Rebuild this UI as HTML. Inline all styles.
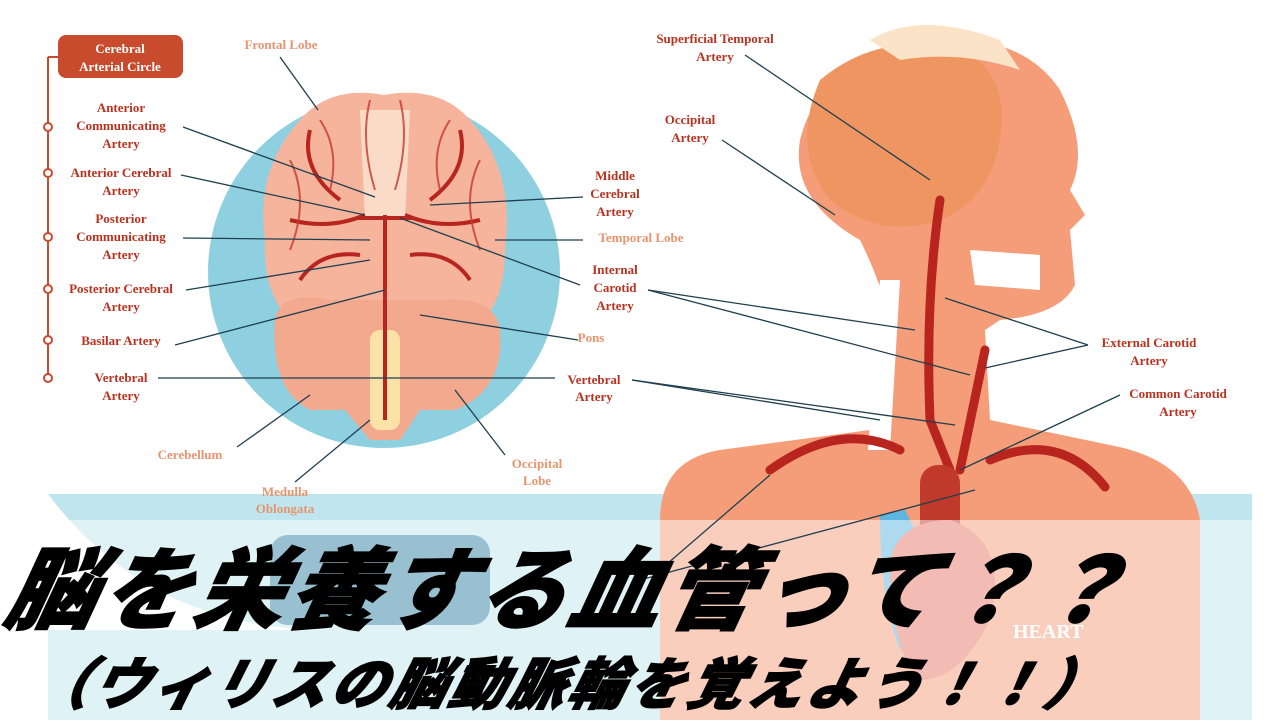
<!DOCTYPE html>
<html><head><meta charset="utf-8">
<style>
html,body{margin:0;padding:0;width:1280px;height:720px;overflow:hidden;background:#fff}
svg{position:absolute;left:0;top:0}
.t{position:absolute;font-family:"Liberation Sans","Noto Sans CJK JP",sans-serif;font-weight:900;color:#000;font-style:italic;white-space:nowrap;transform:skewX(-12deg);-webkit-text-stroke:1.5px #000}
</style></head><body>
<svg width="1280" height="720" viewBox="0 0 1280 720" font-family="Liberation Serif,serif" font-weight="bold" font-size="13">
<rect x="48" y="494" width="1204" height="226" fill="#bfe6ee"/>
<path d="M48 494 Q150 630 330 630 L48 630 Z" fill="#fff"/>
<circle cx="384" cy="272" r="176" fill="#8fd0e0"/>
<path d="M300 120 Q330 85 384 95 Q440 85 470 120 Q515 170 505 250 Q505 310 470 330 L300 330 Q262 300 265 240 Q255 170 300 120Z" fill="#f6b49c"/>
<path d="M275 320 Q280 290 330 300 L440 300 Q495 295 500 330 Q505 390 455 410 L420 410 L400 440 L370 440 L345 410 L310 410 Q270 390 275 320Z" fill="#f3a98e"/>
<path d="M360 110 L410 110 L405 220 L365 220Z" fill="#fadbc8"/>
<rect x="370" y="330" width="30" height="100" rx="10" fill="#fbe3a8"/>
<g stroke="#b8251f" stroke-width="4" fill="none">
<path d="M385 215 L385 420"/><path d="M358 218 L412 218"/><path d="M340 200 Q300 170 310 130"/><path d="M430 200 Q470 170 460 130"/>
<path d="M360 255 Q320 250 300 280"/><path d="M410 255 Q450 250 470 280"/><path d="M365 215 Q330 230 290 220"/><path d="M405 215 Q440 230 480 220"/>
</g>
<g stroke="#c7392e" stroke-width="2" fill="none" opacity=".8">
<path d="M320 120 Q340 150 330 190"/><path d="M450 120 Q430 150 440 190"/><path d="M290 160 Q310 200 290 250"/><path d="M480 160 Q460 200 480 250"/>
<path d="M370 100 Q360 140 375 190"/><path d="M400 100 Q410 140 395 190"/>
</g>
<path d="M660 520 Q660 460 720 450 L870 430 L890 320 Q880 280 860 240 Q790 200 800 140 Q820 60 920 40 Q1020 30 1060 90 Q1090 150 1070 190 L1085 215 L1070 230 L1075 285 Q1060 315 1000 320 L985 330 L990 420 L1110 445 Q1190 460 1200 520 L1200 720 L660 720Z" fill="#f59d78"/>
<path d="M820 80 Q880 30 960 50 Q1010 70 1000 140 Q990 200 940 220 Q880 240 830 200 Q790 150 820 80Z" fill="#ee9562"/>
<path d="M870 40 Q920 10 1000 40 L1020 70 Q960 50 900 60Z" fill="#fbe3c8"/>
<path d="M970 250 L1040 255 L1040 290 L975 285Z" fill="#fff"/>
<path d="M880 280 L900 280 L890 450 L868 450Z" fill="#fff"/>
<g stroke="#b8251f" stroke-width="9" fill="none" stroke-linecap="round">
<path d="M940 200 Q925 300 930 420 L950 470"/><path d="M960 470 L985 350"/><path d="M770 470 Q840 420 900 450"/><path d="M1105 487 Q1060 430 990 460"/>
</g>
<rect x="920" y="465" width="40" height="140" rx="18" fill="#c0392b"/>
<path d="M880 515 L905 510 L930 560 L930 620 L900 650 Q880 600 880 515Z" fill="#5db5e0"/>
<path d="M890 560 Q900 520 950 520 Q1010 540 990 620 Q960 680 920 680 Q890 650 890 560Z" fill="#e5786a"/>
<rect x="48" y="520" width="1207" height="200" fill="#fff" opacity=".5"/>
<rect x="270" y="535" width="220" height="90" rx="18" fill="#6a9fb8" opacity=".6"/>
<text x="1013" y="638" fill="#fff" font-size="20">HEART</text>
<rect x="58" y="35" width="125" height="43" rx="8" fill="#c94b2e"/>
<text x="120" y="53" fill="#fff" text-anchor="middle">Cerebral</text>
<text x="120" y="71" fill="#fff" text-anchor="middle">Arterial Circle</text>
<path d="M48 57 L48 378" stroke="#c94b2e" stroke-width="2"/><path d="M48 57 L58 57" stroke="#c94b2e" stroke-width="2"/>
<g fill="#fff" stroke="#c94b2e" stroke-width="2"><circle cx="48" cy="127" r="4"/><circle cx="48" cy="173" r="4"/><circle cx="48" cy="237" r="4"/><circle cx="48" cy="289" r="4"/><circle cx="48" cy="340" r="4"/><circle cx="48" cy="378" r="4"/></g>
<g fill="#b8321f" text-anchor="middle">
<text x="121" y="112">Anterior</text><text x="121" y="130">Communicating</text><text x="121" y="148">Artery</text>
<text x="121" y="177">Anterior Cerebral</text><text x="121" y="195">Artery</text>
<text x="121" y="223">Posterior</text><text x="121" y="241">Communicating</text><text x="121" y="259">Artery</text>
<text x="121" y="293">Posterior Cerebral</text><text x="121" y="311">Artery</text>
<text x="121" y="345">Basilar Artery</text>
<text x="121" y="382">Vertebral</text><text x="121" y="400">Artery</text>
<text x="615" y="180">Middle</text><text x="615" y="198">Cerebral</text><text x="615" y="216">Artery</text>
<text x="615" y="274">Internal</text><text x="615" y="292">Carotid</text><text x="615" y="310">Artery</text>
<text x="594" y="384">Vertebral</text><text x="594" y="401">Artery</text>
<text x="715" y="43">Superficial Temporal</text><text x="715" y="61">Artery</text>
<text x="690" y="124">Occipital</text><text x="690" y="142">Artery</text>
<text x="1149" y="347">External Carotid</text><text x="1149" y="365">Artery</text>
<text x="1178" y="398">Common Carotid</text><text x="1178" y="416">Artery</text>
</g>
<g fill="#e8946f" text-anchor="middle">
<text x="281" y="49">Frontal Lobe</text><text x="641" y="242">Temporal Lobe</text><text x="591" y="342">Pons</text>
<text x="190" y="459">Cerebellum</text><text x="285" y="496">Medulla</text><text x="285" y="513">Oblongata</text>
<text x="537" y="468">Occipital</text><text x="537" y="485">Lobe</text>
</g>
<g stroke="#1f3f50" stroke-width="1.3" fill="none">
<path d="M280 57 L318 110"/><path d="M183 127 L375 197"/><path d="M181 175 L365 215"/><path d="M183 238 L370 240"/>
<path d="M186 290 L370 260"/><path d="M175 345 L385 290"/><path d="M158 378 L555 378"/><path d="M583 197 L430 205"/>
<path d="M583 240 L495 240"/><path d="M580 285 L400 218"/><path d="M578 340 L420 315"/><path d="M237 447 L310 395"/>
<path d="M295 482 L370 420"/><path d="M505 455 L455 390"/>
<path d="M745 55 L930 180"/><path d="M722 140 L835 215"/><path d="M648 290 L915 330"/><path d="M648 290 L970 375"/>
<path d="M632 380 L880 420"/><path d="M632 380 L955 425"/><path d="M1088 345 L945 298"/><path d="M1088 345 L985 368"/>
<path d="M1120 395 L960 470"/><path d="M770 475 L660 570"/><path d="M975 490 L640 580"/>
</g>
</svg>
<div class="t" style="left:10px;top:518px;font-size:90px;letter-spacing:4px">脳を栄養する血管って？？</div>
<div class="t" style="left:36px;top:640px;font-size:56px;letter-spacing:3.5px;transform:skewX(-14deg)">（ウィリスの脳動脈輪を覚えよう！！）</div>
</body></html>
